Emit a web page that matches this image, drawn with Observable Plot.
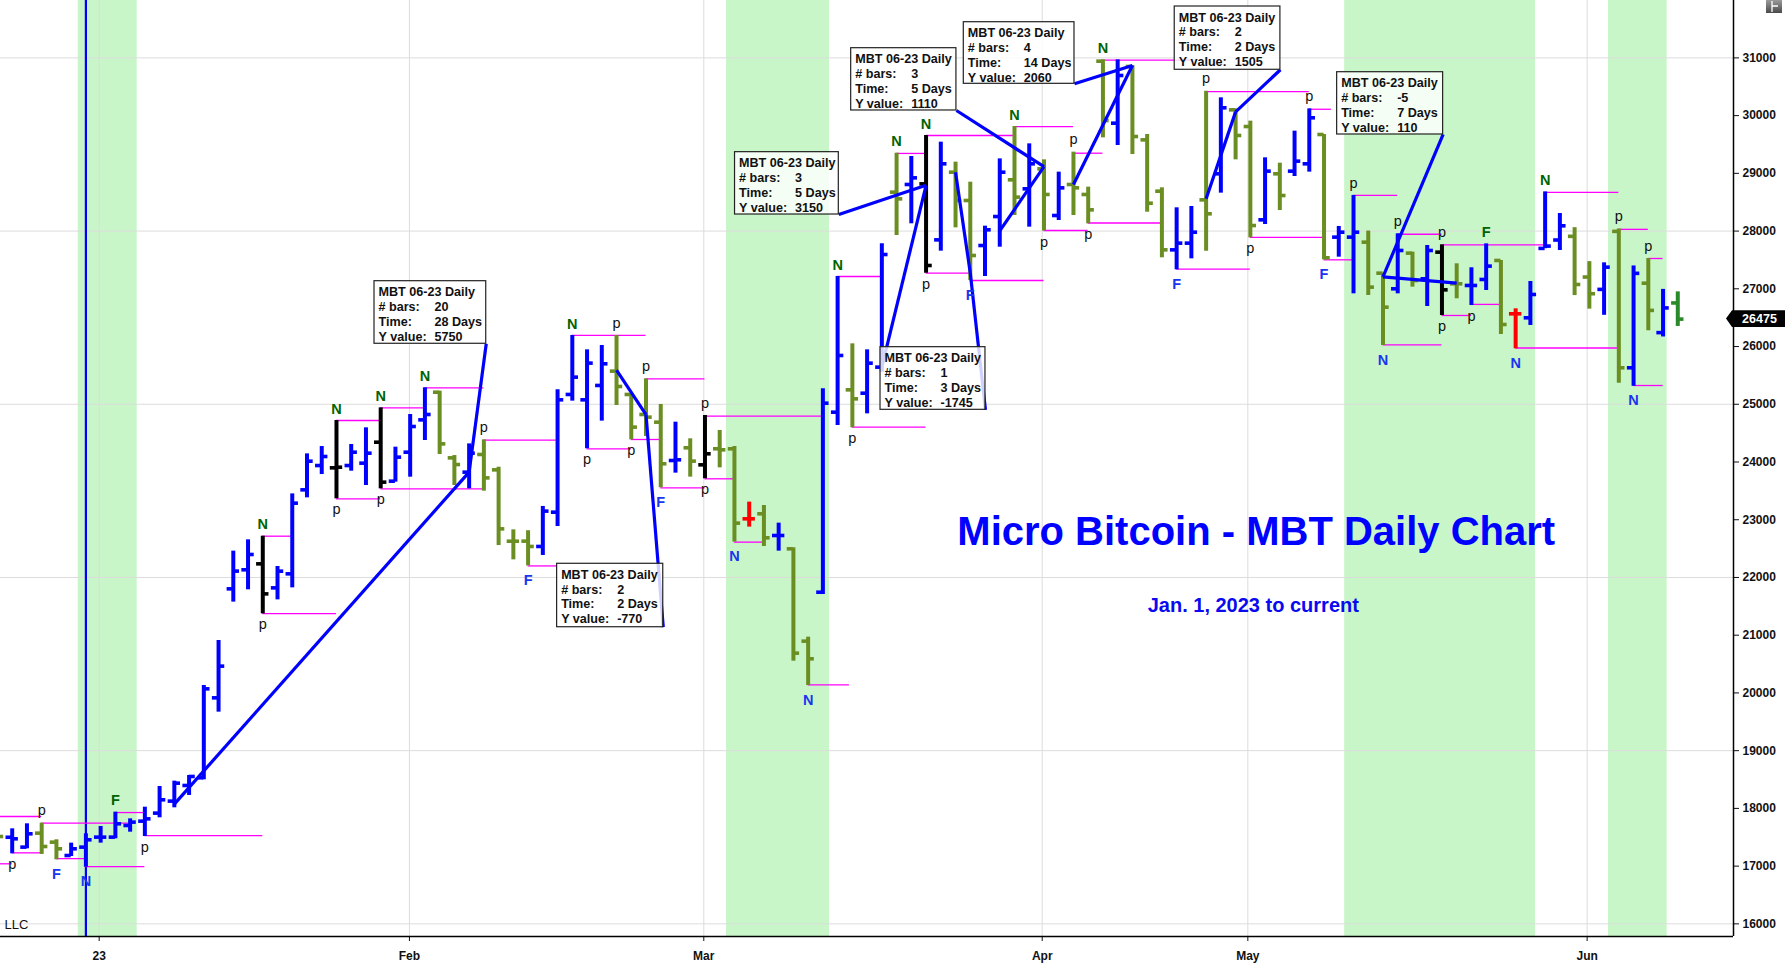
<!DOCTYPE html>
<html>
<head>
<meta charset="utf-8">
<script src="https://cdn.jsdelivr.net/npm/d3@7"></script>
<script src="https://cdn.jsdelivr.net/npm/@observablehq/plot@0.6"></script>
<style>
html,body{margin:0;padding:0;background:#fff;}
#chart{position:relative;width:1786px;height:968px;overflow:hidden;}
</style>
</head>
<body>
<div id="chart"></div>
<script>
// ---------------- DATA ----------------
// bar index (trading days; -1 is the partly hidden bar at the left edge)
const barIndex = d3.range(-1, 114);
const opens = [17620,17500,17329,17571,17415,17184,17329,17502,17502,17704,17779,
17918,18126,18397,18530,19915,21803,22133,22236,21820,22063,
23518,23939,23899,23939,23980,24343,23668,24170,24730,25209,
24072,23824,24130,23864,22628,22629,22537,23131,25170,25077,
25326,25574,25170,24823,24690,24026,24246,23951,24229,24229,
23016,23103,22727,22496,20897,21745,24863,25250,25192,25643,
28674,28807,28818,27848,29020,28530,27750,28252,28888,28732,
29078,28270,28807,28634,30943,29869,30851,29580,28691,27675,
27791,28541,28992,30100,29811,28195,28992,29038,29165,29673,
27895,27895,27808,27271,27000,27618,27173,27635,27087,27058,
27162,27491,26567,26498,27700,27845,27909,27204,26990,27995,
25632,27097,26241,26755];
const highs = [17700,17646,17733,17744,17456,17398,17560,17687,17935,17819,18021,
18379,18472,18570,20129,20908,22456,22652,22715,22190,23448,
24141,24268,24719,24303,24592,24938,24257,24823,25285,25227,
24112,24314,24384,23910,22825,22810,23230,25251,26192,25943,
26018,26192,25170,25441,24997,24690,24402,24806,24546,24269,
23305,23247,22941,22514,20966,25267,27213,26047,25943,27779,
29349,29292,29656,29540,29194,28847,28085,29251,29811,29511,
29234,29021,29367,28761,30966,30966,30868,29673,28749,28403,
28426,30424,30308,30117,29904,29269,29176,29731,30117,29673,
28080,28617,28000,27271,27953,27635,27750,27762,27433,27364,
27779,27491,26653,27127,28679,28305,28059,27471,27450,28038,
27396,27525,26990,26947];
const lows = [17450,17213,17300,17202,17109,17167,16982,17398,17473,17588,17513,
17837,18010,18224,18495,19667,21573,21786,21370,21612,21820,
23379,23783,23362,23841,23593,23535,23651,23737,24372,24130,
23593,23535,23495,22553,22305,22200,22381,22883,25054,24229,
24708,24979,24384,24442,23553,23807,23738,23709,23899,22612,
22872,22537,22456,20550,20129,21705,24632,24592,24834,25556,
27923,28126,27271,27652,28056,27144,27213,27721,28270,28068,
28000,28183,28270,28126,29615,29482,29326,28327,27537,27329,
27519,27652,28657,29234,27883,28114,28356,28945,29021,27502,
27548,26913,26884,26018,26913,27029,26694,26538,26827,26711,
26971,26209,25961,26365,27695,27663,26883,26648,26541,25364,
25311,26273,26166,26348];
const closes = [17513,17473,17560,17340,17300,17300,17456,17502,17733,17762,17819,
18149,18437,18553,20071,20464,22110,22398,21716,22109,23287,
24014,24095,23910,24170,24153,23651,24084,24615,24823,24314,
23956,24153,23725,22842,22628,22537,23149,25077,25470,25713,
25701,25308,24604,24777,23969,24038,24015,24142,24211,22941,
23016,22687,22727,20689,20591,25019,25845,25094,25712,27594,
28558,28922,27404,29165,28530,27577,28022,29020,28588,29165,
28634,28749,28749,28368,29915,30695,29638,28483,27675,27791,
27981,28299,30135,29656,28096,29038,28616,29211,29962,27537,
27981,27981,27029,26682,27664,27144,27664,26982,27087,27058,
27393,26382,26567,26902,27740,28091,27075,26915,27375,25632,
27268,26626,26669,26475];
// bar colour class: B blue, G olive, K black, R red, L last bar
const colorCodes = ("G" +
" B B G G B B B B B B" + " B B B B B B B" + " K" + " B B B B" + " K" + " B B" + " K" + " B B B" +
" G G B G G G G" + " B B B B B" + " G G G G" +
" B G K G G R G B G G" + " B B G B B G B K B G" + " G B B G B G B G G G" +
" B G G G B B G B G G" + " B G B B G B B G G B" + " G B K G B B G R B B" +
" B G G B G B G B L").split(" ");

// pivot (magenta) lines: from bar, to bar, price
const pivotFrom = [-1,2,-1,0,3,5,7,9,17,17,22,22,25,25,28,32,35,38,39,42,43,44,47,47,49,54,56,57,60,62,62,65,68,70,72,74,73,79,81,84,88,89,91,94,93,97,97,99,102,104,109,111,110];
const pivotTo   = [2,8,0,2,5,9,9,17,19,22,25,25,28,32,32,37,37,43,42,44,47,47,55,49,51,56.8,59,62,62,68,65,70,72,73,74,80,78,84,88,89,89.5,91,94,97,97,104,99,101,109,109,111,112,112];
const pivotVal  = [17860,17744,17040,17230,17130,16990,17928,17530,22715,21375,24719,23362,24938,23535,25285,24380,22200,26192,24229,24390,25441,23553,24795,23709,22612,20140,27213,24605,29345,29656,27271,27144,29811,28010,29349,30960,28140,27340,30415,27890,30110,27502,28617,27945,26030,27762,26538,26730,25975,28670,28030,27525,25325];

// swing labels
const labelBar  = [2,0,3,5,7,9,17,17,22,22,25,25,28,32,35,38,39,41,42,43,44,47,47,49,54,56,57,60,62,62,65,68,70,72,73,74,79,81,84,88,89,91,94,93,97,97,99,100,102,104,109,110,111];
const labelText = ["p","p","F","N","F","p","N","p","N","p","N","p","N","p","F","N","p","p","p","p","F","p","p","N","N","N","p","N","N","p","F","N","p","p","p","N","F","p","p","p","F","p","p","N","p","p","p","F","N","N","p","N","p"];
const labelSide = ["a","b","b","b","a","b","a","b","a","b","a","b","a","a","b","a","b","a","b","a","b","a","b","b","b","a","b","a","a","b","b","a","b","a","b","a","b","a","b","a","b","a","a","b","a","b","b","a","b","a","a","b","a"];

// measurement lines (bar / price) and their info boxes
const mFromBar = [11,41,59,67,72,64,81,98];
const mFromVal = [18075,25590,25643,28005,28807,29020,28560,27098];
const mToBar   = [31,43,62,70,76,65,83,93];
const boxBars  = [20,2,3,3,4,1,2,-5];
const boxDays  = [28,2,5,5,14,3,2,7];
const boxYValue= [5750,-770,3150,1110,2060,-1745,1505,110];
const boxTitle = "MBT 06-23 Daily";

// time-cycle bands (bar index ranges) and the cycle line
const bandStart = [4.48,48.46,90.4,108.3];
const bandEnd   = [8.48,55.45,103.35,112.28];
const cycleLineBar = [5];

// axes
const monthTickPos = [5.9,26.95,46.92,69.88,83.83,106.85];
const monthLabels  = ["23","Feb","Mar","Apr","May","Jun"];
const yTicks = d3.range(16000, 31001, 1000);
const gridValues = d3.range(16000, 31001, 3000);
const lastPrice = 26475;

// ---------------- LAYOUT (annotation placement in data space) ----------------
const boxLeft   = [24.58,36.97,49.04,56.92,64.56,58.91,78.87,89.89];
const boxTop    = [27132,22237,29367,31168,31618,25989,31890,30752];
const boxRight  = [32.16,44.17,56.08,64.06,72.07,66.03,86.04,97.08];
const boxBottom = [26048,21138,28287,30089,30551,24904,30794,29673];

const W = 1786, H = 968;
const xDomain = [-0.794, 116.78];
const yDomain = [15781, 31994];
const FONT = "Liberation Sans, Arial, Helvetica, sans-serif";
const colorMap = {B: "#0000ff", G: "#6b8e23", K: "#000000", R: "#ff0000", L: "#2a8a2a"};

const bars = barIndex.map((i, k) => ({i, o: opens[k], h: highs[k], l: lows[k], c: closes[k], col: colorMap[colorCodes[k]]}));
const barAt = i => bars[i + 1];
const tickLen = 0.42;

const marks = [];
// bands
marks.push(Plot.rect(d3.range(bandStart.length), {x1: k => bandStart[k], x2: k => bandEnd[k], y1: yDomain[0], y2: yDomain[1], fill: "#c8f6c8"}));
// grid
marks.push(Plot.ruleY(gridValues, {stroke: "#dcdcdc", strokeWidth: 1}));
marks.push(Plot.ruleX(monthTickPos, {stroke: "#dcdcdc", strokeWidth: 1}));
// cycle line
marks.push(Plot.ruleX(cycleLineBar, {stroke: "#0000ff", strokeWidth: 2.2}));
// pivot lines
marks.push(Plot.ruleY(d3.range(pivotVal.length), {y: k => pivotVal[k], x1: k => pivotFrom[k], x2: k => pivotTo[k], stroke: "#ff00ff", strokeWidth: 1.3, clip: true}));
// OHLC bars
marks.push(Plot.ruleX(bars, {x: "i", y1: "l", y2: "h", stroke: d => d.col, strokeWidth: 4, clip: true}));
marks.push(Plot.ruleY(bars, {y: "o", x1: d => d.i - tickLen, x2: "i", stroke: d => d.col, strokeWidth: 3.6, clip: true}));
marks.push(Plot.ruleY(bars, {y: "c", x1: "i", x2: d => d.i + tickLen, stroke: d => d.col, strokeWidth: 3.6, clip: true}));
// measurement lines and connectors
const mIdx = d3.range(mFromBar.length);
marks.push(Plot.link(mIdx, {x1: k => mFromBar[k], y1: k => mFromVal[k], x2: k => mToBar[k], y2: k => mFromVal[k] + boxYValue[k], stroke: "#0000ff", strokeWidth: 3.2}));
marks.push(Plot.link(mIdx, {x1: k => mToBar[k], y1: k => mFromVal[k] + boxYValue[k], x2: k => boxRight[k], y2: k => boxBottom[k], stroke: "#0000ff", strokeWidth: 3.2}));
// boxes
marks.push(Plot.rect(mIdx, {x1: k => boxLeft[k], x2: k => boxRight[k], y1: k => boxBottom[k], y2: k => boxTop[k], fill: "white", fillOpacity: 0.82, stroke: "#222", strokeWidth: 1.2}));
const boxRows = [
  {label: () => boxTitle, value: null},
  {label: () => "# bars:", value: k => String(boxBars[k])},
  {label: () => "Time:", value: k => boxDays[k] + " Days"},
  {label: () => "Y value:", value: k => String(boxYValue[k])}
];
boxRows.forEach((row, r) => {
  marks.push(Plot.text(mIdx, {x: k => boxLeft[k], y: k => boxTop[k], text: row.label, dx: 4, dy: 11 + 14.8 * r, textAnchor: "start", lineAnchor: "middle", fontSize: 12.6, fontWeight: "bold", fontFamily: FONT, fill: "#111"}));
  if (row.value) marks.push(Plot.text(mIdx, {x: k => boxLeft[k], y: k => boxTop[k], text: row.value, dx: 60, dy: 11 + 14.8 * r, textAnchor: "start", lineAnchor: "middle", fontSize: 12.6, fontWeight: "bold", fontFamily: FONT, fill: "#111"}));
});
// swing labels
const lIdx = d3.range(labelBar.length);
const lblColor = k => labelText[k] === "p" ? "#111" : (labelSide[k] === "a" ? "#006400" : "#1a35f0");
const sel = (side, isP) => lIdx.filter(k => labelSide[k] === side && (labelText[k] === "p") === isP);
marks.push(Plot.text(sel("a", false), {x: k => labelBar[k], y: k => barAt(labelBar[k]).h, text: k => labelText[k], dy: -11.5, fill: lblColor, fontSize: 14.5, fontWeight: "bold", fontFamily: FONT}));
marks.push(Plot.text(sel("a", true), {x: k => labelBar[k], y: k => barAt(labelBar[k]).h, text: k => labelText[k], dy: -12.5, fill: lblColor, fontSize: 14.5, fontWeight: "normal", fontFamily: FONT}));
marks.push(Plot.text(sel("b", false), {x: k => labelBar[k], y: k => barAt(labelBar[k]).l, text: k => labelText[k], dy: 14.5, fill: lblColor, fontSize: 14.5, fontWeight: "bold", fontFamily: FONT}));
marks.push(Plot.text(sel("b", true), {x: k => labelBar[k], y: k => barAt(labelBar[k]).l, text: k => labelText[k], dy: 10.8, fill: lblColor, fontSize: 14.5, fontWeight: "normal", fontFamily: FONT}));
// title & subtitle
marks.push(Plot.text(["Micro Bitcoin - MBT Daily Chart"], {x: 84.4, y: 22780, text: d => d, fontSize: 40, fontWeight: "bold", fontFamily: FONT, fill: "#0000ff"}));
marks.push(Plot.text(["Jan. 1, 2023 to current"], {x: 84.2, y: 21518, text: d => d, fontSize: 20, fontWeight: "bold", fontFamily: FONT, fill: "#0a0af0"}));
marks.push(Plot.text(["LLC"], {frameAnchor: "bottom-left", text: d => d, dx: 4, dy: -8, textAnchor: "start", fontSize: 13, fontWeight: "normal", fontFamily: FONT, fill: "#111"}));
// axis lines
marks.push(Plot.ruleX([xDomain[1]], {stroke: "#000", strokeWidth: 1.5}));
marks.push(Plot.ruleY([yDomain[0]], {stroke: "#000", strokeWidth: 1.5}));
// last price tag + corner button
marks.push(function (index, scales, values, dimensions) {
  const y = scales.y(lastPrice);
  const x0 = dimensions.width - dimensions.marginRight;
  const g = d3.create("svg:g");
  g.append("path")
    .attr("d", `M${x0 - 7},${y} L${x0 - 1},${y - 8.4} L${x0 + 52},${y - 8.4} L${x0 + 52},${y + 8.4} L${x0 - 1},${y + 8.4} Z`)
    .attr("fill", "#000");
  g.append("text").attr("x", x0 + 26.5).attr("y", y).attr("dy", "0.36em")
    .attr("text-anchor", "middle").attr("fill", "#fff")
    .attr("font-family", FONT).attr("font-weight", "bold").attr("font-size", 12.5)
    .text(String(lastPrice));
  const bx = dimensions.width - 20;
  const defs = g.append("defs");
  const lg = defs.append("linearGradient").attr("id", "btnGrad").attr("x1", 0).attr("y1", 0).attr("x2", 0).attr("y2", 1);
  lg.append("stop").attr("offset", "0%").attr("stop-color", "#9a9a9a");
  lg.append("stop").attr("offset", "100%").attr("stop-color", "#4a4a4a");
  g.append("rect").attr("x", bx).attr("y", 0).attr("width", 16).attr("height", 13).attr("fill", "url(#btnGrad)");
  g.append("path").attr("d", `M${bx + 6},1 L${bx + 6},12 M${bx + 6},6 L${bx + 12},6`).attr("stroke", "#fff").attr("stroke-width", 1.3).attr("fill", "none");
  return g.node();
});

const chart = Plot.plot({
  width: W,
  height: H,
  marginLeft: 0,
  marginRight: 53,
  marginTop: 0,
  marginBottom: 32,
  style: {fontFamily: FONT, fontSize: "12px", fontWeight: "bold", color: "#111", background: "#fff", overflow: "visible"},
  x: {type: "linear", domain: xDomain, ticks: monthTickPos, tickFormat: d => monthLabels[monthTickPos.indexOf(d)], tickSize: 5, tickPadding: 10, label: null},
  y: {type: "linear", domain: yDomain, axis: "right", ticks: yTicks, tickFormat: d => String(d), tickSize: 5, tickPadding: 4, label: null},
  marks
});
document.getElementById("chart").appendChild(chart);
</script>
</body>
</html>
